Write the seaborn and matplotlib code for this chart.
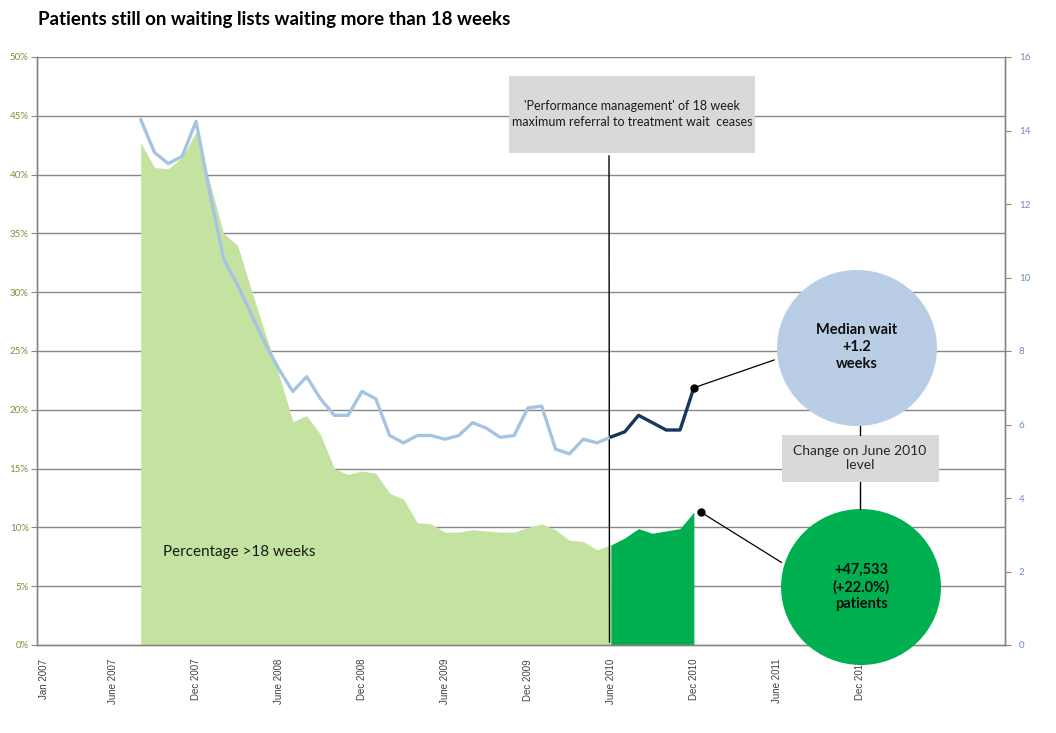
import numpy as np
import pandas as pd
import matplotlib
matplotlib.use("Agg")
import matplotlib.pyplot as plt
import seaborn as sns
from matplotlib.patches import Ellipse, Rectangle

sns.set_style("white")
plt.rcParams['font.family'] = ['Lato', 'DejaVu Sans']

# months Jan 2007 .. Oct 2012 (category axis)
month_names = ["Jan", "Feb", "Mar", "Apr", "May", "June", "Jul", "Aug", "Sep", "Oct", "Nov", "Dec"]
n_months = 70
tick_label_idx = [0, 5, 11, 17, 23, 29, 35, 41, 47, 53, 59]
tick_labels = [month_names[i % 12] + " " + str(2007 + i // 12) for i in tick_label_idx]

# data Aug 2007 .. Dec 2010
start_idx = 7
pct_over_18 = [42.7, 40.6, 40.5, 41.5, 43.6, 39.3, 35.0, 34.0, 30.2, 26.5,
               23.0, 19.0, 19.5, 17.9, 15.0, 14.5, 14.8, 14.6, 12.9, 12.4,
               10.4, 10.3, 9.6, 9.6, 9.8, 9.7, 9.6, 9.6, 10.0, 10.3,
               9.8, 8.9, 8.8, 8.1, 8.5, 9.1, 9.9, 9.5, 9.7, 9.9, 11.3]
median_wait = [14.3, 13.4, 13.1, 13.3, 14.25, 12.3, 10.5, 9.8, 9.0, 8.2,
               7.5, 6.9, 7.3, 6.7, 6.25, 6.25, 6.9, 6.7, 5.7, 5.5,
               5.7, 5.7, 5.6, 5.7, 6.05, 5.9, 5.65, 5.7, 6.45, 6.5,
               5.33, 5.2, 5.6, 5.5, 5.66, 5.8, 6.25, 6.05, 5.85, 5.85, 7.0]
split_idx = 41  # June 2010

df = pd.DataFrame({
    "idx": np.arange(start_idx, start_idx + len(pct_over_18)),
    "pct": pct_over_18,
    "median": median_wait,
})
before = df[df["idx"] <= split_idx]
after = df[df["idx"] >= split_idx]

W, H = 1056, 733
fig = plt.figure(figsize=(W / 100, H / 100), dpi=100)
ax = fig.add_axes([37 / W, 1 - 645 / H, (1005 - 37) / W, (645 - 57) / H])
ax2 = ax.twinx()

light_green = "#C4E3A0"
dark_green = "#00B050"
light_blue = "#A7C3E2"
navy = "#17375E"
grid_col = "#868686"

ax.fill_between(before["idx"], 0, before["pct"], color=light_green, lw=0, zorder=2)
ax.fill_between(after["idx"], 0, after["pct"], color=dark_green, lw=0, zorder=2)

for y in range(5, 51, 5):
    ax.axhline(y, color=grid_col, lw=1, zorder=1)

ax.set_xlim(-0.5, n_months - 0.5)
ax.set_ylim(0, 50)
ax2.set_ylim(0, 16)

sns.lineplot(data=before, x="idx", y="median", ax=ax2, color=light_blue, lw=2.4, zorder=3)
sns.lineplot(data=after, x="idx", y="median", ax=ax2, color=navy, lw=2.4, zorder=3)
ax2.plot(after["idx"].iloc[-1], after["median"].iloc[-1], "o", color="black", ms=5, zorder=4)
ax.plot(after["idx"].iloc[-1] + 0.5, after["pct"].iloc[-1], "o", color="black", ms=5, zorder=4, clip_on=False)

# axes styling
for a in (ax, ax2):
    a.spines["top"].set_visible(False)
    for s in ["left", "right", "bottom"]:
        a.spines[s].set_color(grid_col)
        a.spines[s].set_linewidth(1)
ax.set_yticks(range(0, 51, 5))
ax.set_yticklabels([f"{v}%" for v in range(0, 51, 5)], fontsize=7, color="#76923C")
ax2.set_yticks(range(0, 17, 2))
ax2.set_yticklabels([str(v) for v in range(0, 17, 2)], fontsize=7, color="#6C8EBF")
ax.tick_params(axis="y", direction="out", length=4, color=grid_col, pad=2)
ax2.tick_params(axis="y", direction="out", length=4, color=grid_col, pad=6)
ax.set_xticks(np.arange(-0.5, n_months, 1))
ax.set_xticklabels([])
ax.tick_params(axis="x", which="major", direction="out", length=4, color=grid_col)
ax.set_xticks(tick_label_idx, minor=True)
ax.set_xticklabels(tick_labels, minor=True, rotation=90, fontsize=7, color="#404040",
                   family=["Liberation Sans", "DejaVu Sans"])
ax.tick_params(axis="x", which="minor", length=0, pad=10)
ax.set_xlabel("")
ax.set_ylabel("")
ax2.set_xlabel("")
ax2.set_ylabel("")

# title and labels
fig.text(38 / W, 1 - 20 / H, "Patients still on waiting lists waiting more than 18 weeks",
         fontsize=13.5, fontweight="bold", va="center", ha="left", color="black")
fig.text(163 / W, 1 - 552 / H, "Percentage >18 weeks",
         fontsize=11, va="center", ha="left", color="#1a1a1a", zorder=5)

# performance management box
fig.add_artist(Rectangle((509 / W, 1 - 153 / H), (755 - 509) / W, (153 - 76) / H,
                         transform=fig.transFigure, color="#D9D9D9", lw=0, zorder=5))
fig.text(632 / W, 1 - 114 / H,
         "'Performance management' of 18 week\nmaximum referral to treatment wait  ceases",
         fontsize=9, ha="center", va="center", color="#1a1a1a", zorder=6, linespacing=1.3)
ax.annotate("", xy=(split_idx - 0.1, 0), xycoords="data",
            xytext=(609 / W, 1 - 153 / H), textcoords="figure fraction",
            arrowprops=dict(arrowstyle="-", color="black", lw=1), zorder=5)

# circles
fig.add_artist(Ellipse((857 / W, 1 - 348 / H), 160 / W, 156 / H, transform=fig.transFigure,
                       color="#B9CDE5", lw=0, zorder=5))
fig.text(857 / W, 1 - 347 / H, "Median wait\n+1.2\nweeks", fontsize=10.5, fontweight="bold",
         ha="center", va="center", color="#0d0d0d", zorder=6, linespacing=1.25)
fig.add_artist(Ellipse((861 / W, 1 - 587 / H), 160 / W, 156 / H, transform=fig.transFigure,
                       color=dark_green, lw=0, zorder=5))
fig.text(861 / W, 1 - 587 / H, "+47,533\n(+22.0%)\npatients", fontsize=10.5, fontweight="bold",
         ha="center", va="center", color="#0d0d0d", zorder=6, linespacing=1.25)

# change box
fig.add_artist(Rectangle((782 / W, 1 - 482 / H), (939 - 782) / W, (482 - 435) / H,
                         transform=fig.transFigure, color="#D9D9D9", lw=0, zorder=5))
fig.text(860 / W, 1 - 458 / H, "Change on June 2010\nlevel", fontsize=10, ha="center",
         va="center", color="#262626", zorder=6, linespacing=1.2)
fig.add_artist(plt.Line2D([860 / W, 860 / W], [1 - 426 / H, 1 - 435 / H],
                          transform=fig.transFigure, color="black", lw=1, zorder=5))
fig.add_artist(plt.Line2D([860 / W, 860 / W], [1 - 482 / H, 1 - 509 / H],
                          transform=fig.transFigure, color="black", lw=1, zorder=5))

# connectors
ax2.annotate("", xy=(after["idx"].iloc[-1], after["median"].iloc[-1]), xycoords="data",
             xytext=(777 / W, 1 - 359 / H), textcoords="figure fraction",
             arrowprops=dict(arrowstyle="-", color="black", lw=0.9))
ax.annotate("", xy=(after["idx"].iloc[-1] + 0.5, after["pct"].iloc[-1]), xycoords="data",
            xytext=(784 / W, 1 - 564 / H), textcoords="figure fraction",
            arrowprops=dict(arrowstyle="-", color="black", lw=0.9))

fig.savefig("out.png", dpi=100)
